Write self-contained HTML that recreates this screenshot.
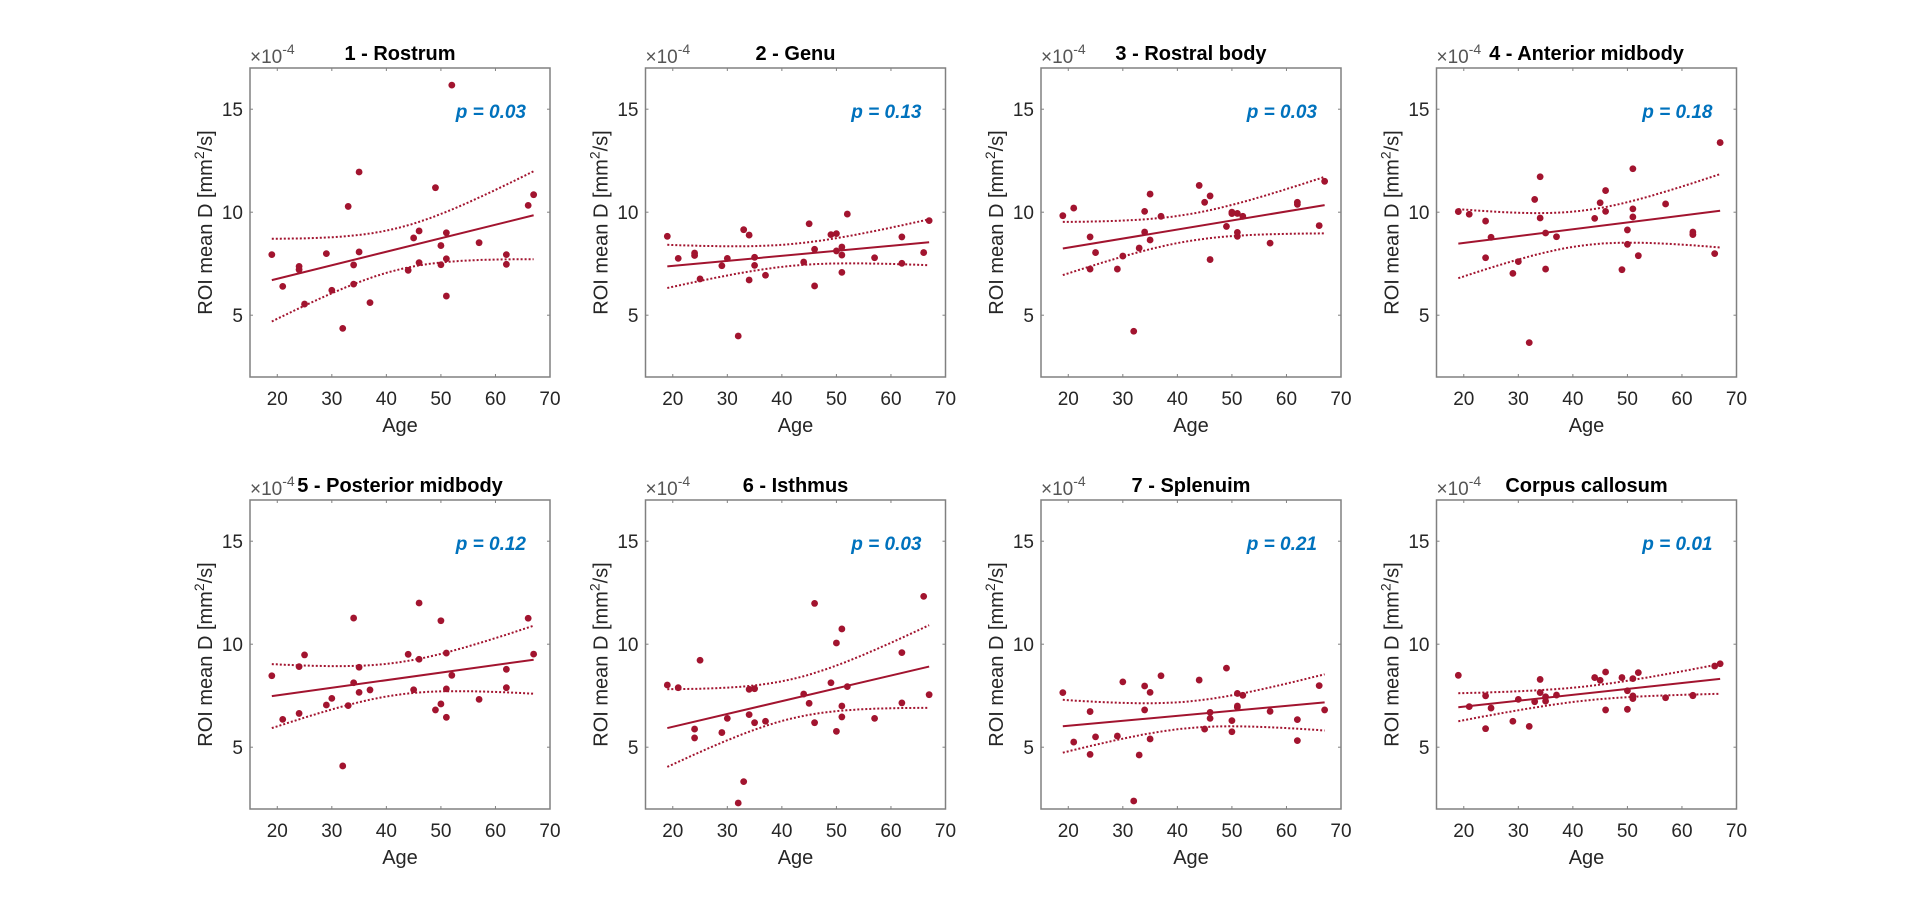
<!DOCTYPE html>
<html><head><meta charset="utf-8"><style>
html,body{margin:0;padding:0;background:#fff;}
svg{display:block;font-family:"Liberation Sans",Arial,sans-serif;}
</style></head>
<body>
<svg id="fig" width="1920" height="911" viewBox="0 0 1920 911" xmlns="http://www.w3.org/2000/svg"></svg>
<script>
const ages = [19,21,24,24,25,29,30,32,33,34,34,35,35,37,44,45,46,46,49,50,50,51,51,51,52,57,62,62,66,67];
const rostrum = [7.94,6.40,7.37,7.21,5.54,7.99,6.21,4.36,10.28,7.44,6.51,11.95,8.07,5.61,7.18,8.75,9.09,7.55,11.19,8.38,7.45,9.0,7.74,5.93,16.17,8.52,7.94,7.47,10.33,10.85];
const genu = [8.83,7.76,8.02,7.9,6.76,7.40,7.76,3.99,9.15,8.89,6.71,7.81,7.42,6.94,7.58,9.44,8.20,6.42,8.91,8.96,8.12,8.31,7.92,7.08,9.91,7.79,8.80,7.52,8.04,9.59];
const rostralBody = [9.83,10.2,8.8,7.24,8.04,7.24,7.87,4.22,8.26,10.04,9.04,10.88,8.65,9.8,11.3,10.48,10.79,7.70,9.31,10.0,9.93,9.94,9.02,8.83,9.8,8.5,10.48,10.38,9.35,11.5];
const anteriorMidbody = [10.03,9.9,9.57,7.79,8.78,7.03,7.6,3.67,10.62,11.72,9.72,8.99,7.24,8.81,9.7,10.46,11.05,10.04,7.21,9.14,8.44,12.11,10.16,9.77,7.89,10.4,9.04,8.91,7.99,13.38];
const posteriorMidbody = [8.47,6.35,8.91,6.64,9.48,7.05,7.37,4.09,7.02,11.27,8.13,8.88,7.66,7.78,9.51,7.79,12.0,9.27,6.81,11.14,7.10,9.57,7.83,6.45,8.49,7.32,8.78,7.89,11.26,9.52];
const isthmus = [8.02,7.89,5.88,5.45,9.22,5.71,6.40,2.29,3.33,7.81,6.58,7.84,6.19,6.26,7.58,7.13,11.98,6.19,8.13,10.06,5.77,10.74,7.0,6.47,7.94,6.40,9.59,7.15,12.32,7.55];
const splenium = [7.65,5.25,6.73,4.65,5.50,5.54,8.17,2.39,4.62,7.97,6.81,7.66,5.40,8.47,8.26,5.88,6.69,6.40,8.84,6.29,5.75,7.61,7.0,6.94,7.52,6.74,6.34,5.32,7.99,6.81];
const corpusCallosum = [8.49,6.97,7.49,5.90,6.90,6.26,7.32,6.01,7.21,8.29,7.65,7.45,7.24,7.53,8.38,8.25,8.65,6.81,8.38,7.74,6.84,8.33,7.49,7.36,8.62,7.40,7.52,7.50,8.94,9.05];
const titles = ["1 - Rostrum","2 - Genu","3 - Rostral body","4 - Anterior midbody","5 - Posterior midbody","6 - Isthmus","7 - Splenuim","Corpus callosum"];
const pvalues = ["0.03","0.13","0.03","0.18","0.12","0.03","0.21","0.01"];
const xTicks = [20,30,40,50,60,70];
const yTicks = [5,10,15];

const series = [rostrum,genu,rostralBody,anteriorMidbody,posteriorMidbody,isthmus,splenium,corpusCallosum];
const NS = "http://www.w3.org/2000/svg";
const svg = document.getElementById("fig");
const X0=15,X1=70,Y0=2,Y1=17,W=300,H=309;
const lefts=[250,645.5,1041,1436.5], tops=[68,500];
const RED="#A2142F", AX="#808080", TXT="#262626";
function mk(tag, attrs, parent){const e=document.createElementNS(NS,tag);for(const k in attrs)e.setAttribute(k,attrs[k]);(parent||svg).appendChild(e);return e;}

series.forEach((vals, i) => {
  const L=lefts[i%4], T=tops[Math.floor(i/4)];
  const sx=a=>L+(a-X0)/(X1-X0)*W;
  const sy=v=>T+(Y1-v)/(Y1-Y0)*H;
  const g=mk("g",{});
  
  
  const box=mk("rect",{x:L,y:T,width:W,height:H,fill:"none",stroke:AX,"stroke-width":1.5},g);
  
  
  xTicks.forEach(t=>{
    const x=sx(t);
    mk("line",{x1:x,y1:T+H,x2:x,y2:T+H-3,stroke:AX,"stroke-width":1},g);
    mk("line",{x1:x,y1:T,x2:x,y2:T+3,stroke:AX,"stroke-width":1},g);
    const tl=mk("text",{x:x,y:T+H+28,"text-anchor":"middle","font-size":19,fill:TXT},g);
    tl.textContent=t;
    
    
  });
  yTicks.forEach(t=>{
    const y=sy(t);
    mk("line",{x1:L,y1:y,x2:L+3,y2:y,stroke:AX,"stroke-width":1},g);
    mk("line",{x1:L+W,y1:y,x2:L+W-3,y2:y,stroke:AX,"stroke-width":1},g);
    const tl=mk("text",{x:L-7,y:y+7,"text-anchor":"end","font-size":19,fill:TXT},g);
    tl.textContent=t;
    
    
  });
  const xl=mk("text",{x:L+W/2,y:T+H+55,"text-anchor":"middle","font-size":20,fill:TXT},g);
  xl.textContent="Age";
  
  
  const cy=T+H/2;
  const yl=mk("text",{x:L-38,y:cy,"text-anchor":"middle","font-size":20,fill:TXT,transform:`rotate(-90 ${L-38} ${cy})`},g);
  yl.innerHTML='ROI mean D [mm<tspan dy="-8" font-size="14">2</tspan><tspan dy="8">/s]</tspan>';
  
  
  const ex=mk("text",{x:L,y:T-5,"font-size":19,fill:"#555"},g);
  ex.innerHTML='×10<tspan dy="-9" font-size="14">-4</tspan>';
  
  
  const tt=mk("text",{x:L+W/2,y:T-8,"text-anchor":"middle","font-size":20,"font-weight":"bold",fill:"#000"},g);
  tt.textContent=titles[i];
  
  
  const pt=mk("text",{x:L+276,y:T+50,"text-anchor":"end","font-size":19,"font-weight":"bold","font-style":"italic",fill:"#0072BD"},g);
  pt.textContent="p = "+pvalues[i];
  
  
  const n=ages.length;
  const mx=ages.reduce((a,b)=>a+b,0)/n, my=vals.reduce((a,b)=>a+b,0)/n;
  let sxx=0,sxy=0;ages.forEach((a,k)=>{sxx+=(a-mx)**2;sxy+=(a-mx)*(vals[k]-my);});
  const b=sxy/sxx, a0=my-b*mx;
  let sse=0;ages.forEach((a,k)=>{sse+=(vals[k]-a0-b*a)**2;});
  const s=Math.sqrt(sse/(n-2)), crit=2.58;
  const amin=Math.min(...ages), amax=Math.max(...ages);
  let up=[],lo=[];
  for(let j=0;j<=60;j++){const a=amin+(amax-amin)*j/60;const f=a0+b*a;const h=crit*s*Math.sqrt(1/n+(a-mx)**2/sxx);
    up.push(sx(a).toFixed(1)+","+sy(f+h).toFixed(1));lo.push(sx(a).toFixed(1)+","+sy(f-h).toFixed(1));}
  const fit=mk("line",{x1:sx(amin),y1:sy(a0+b*amin),x2:sx(amax),y2:sy(a0+b*amax),stroke:RED,"stroke-width":2},g);
  
  
  const cu=mk("polyline",{points:up.join(" "),fill:"none",stroke:RED,"stroke-width":2,"stroke-dasharray":"2 2"},g);
  
  
  const cl=mk("polyline",{points:lo.join(" "),fill:"none",stroke:RED,"stroke-width":2,"stroke-dasharray":"2 2"},g);
  
  
  ages.forEach((a,k)=>{
    const c=mk("circle",{cx:sx(a),cy:sy(vals[k]),r:3.4,fill:RED},g);
    
    
  });
});
</script>
</body></html>
